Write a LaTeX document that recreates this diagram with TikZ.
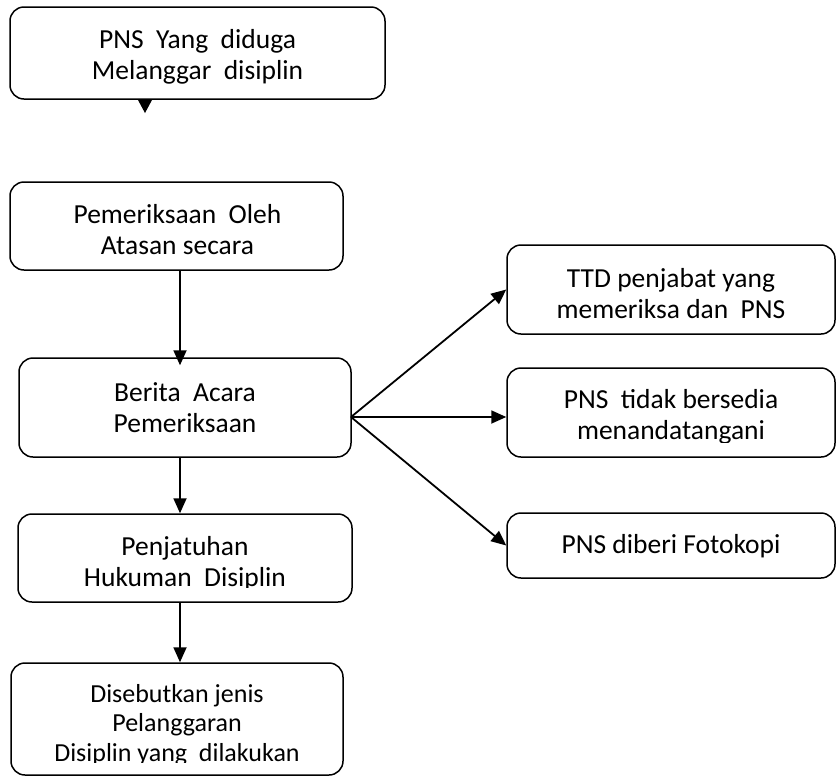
\documentclass[tikz,border=0pt]{standalone}
\usepackage{fontspec}
\setmainfont{Carlito}
\usetikzlibrary{arrows.meta}
\begin{document}
\begin{tikzpicture}[x=1pt,y=-1pt,
  box/.style={draw,line width=1.5pt,rounded corners=14pt,inner sep=0pt},
  txt/.style={inner sep=0pt,align=center,font=\fontsize{27.5pt}{31pt}\selectfont},
  arr/.style={line width=1.8pt,-{Triangle[length=15pt,width=13pt]}}]
\useasboundingbox (0,0) rectangle (836,777);
\node[box,minimum width=375pt,minimum height=92pt] (b1) at (197.5,53) {};
\node[box,minimum width=333pt,minimum height=88pt] (b2) at (176.5,226) {};
\node[box,minimum width=332pt,minimum height=99pt] (b3) at (185,407.5) {};
\node[box,minimum width=334pt,minimum height=88pt] (b4) at (185,558) {};
\node[box,minimum width=332pt,minimum height=112pt] (b5) at (177,719) {};
\node[box,minimum width=328pt,minimum height=89pt] (r1) at (671,289.5) {};
\node[box,minimum width=328pt,minimum height=89pt] (r2) at (671,412.5) {};
\node[box,minimum width=328pt,minimum height=65pt] (r3) at (671,545.5) {};
\node[txt] (t1) at ([yshift=-4pt]b1.center) {PNS\ \ Yang\ \ diduga\\Melanggar\ \ disiplin};
\node[txt] (t2) at ([yshift=-4pt,xshift=1pt]b2.center) {Pemeriksaan\ \ Oleh\\Atasan secara};
\node[txt] (t3) at (b3.center) {Berita\ \ Acara\\Pemeriksaan};
\begin{scope}
\clip (0,0) rectangle (836,587);
\node[txt] (t4) at ([yshift=-5.5pt]b4.center) {Penjatuhan\\Hukuman\ \ Disiplin};
\end{scope}
\begin{scope}
\clip (0,0) rectangle (836,762);
\node[txt,font=\fontsize{26pt}{29.5pt}\selectfont] (t5) at ([yshift=-6pt]b5.center) {Disebutkan jenis\\Pelanggaran\\Disiplin yang\ \ dilakukan};
\end{scope}
\node[txt] (s1) at ([yshift=-4pt]r1.center) {TTD penjabat yang\\memeriksa dan\ \ PNS};
\begin{scope}
\clip (0,0) rectangle (836,442);
\node[txt] (s2) at ([yshift=-4pt]r2.center) {PNS\ \ tidak bersedia\\menandatangani};
\end{scope}
\node[txt] (s3) at ([yshift=-1pt]r3.center) {PNS diberi Fotokopi};
\coordinate (xa) at (180,0);
\coordinate (fan) at (351,417);
\coordinate (tip) at (145,100);
\fill (tip) -- ++(-7,0) -- ++(7,13) -- ++(7,-13) -- cycle;
\draw[arr] (b2.south -| xa) -- ([yshift=-8pt]b3.north -| xa);
\draw[arr] (b3.south -| xa) -- (b4.north -| xa);
\draw[arr] (b4.south -| xa) -- (b5.north -| xa);
\draw[arr] (fan) -- (r1.west);
\draw[arr] (fan) -- (r2.west |- fan);
\draw[arr] (fan) -- (r3.west);
\end{tikzpicture}
\end{document}
